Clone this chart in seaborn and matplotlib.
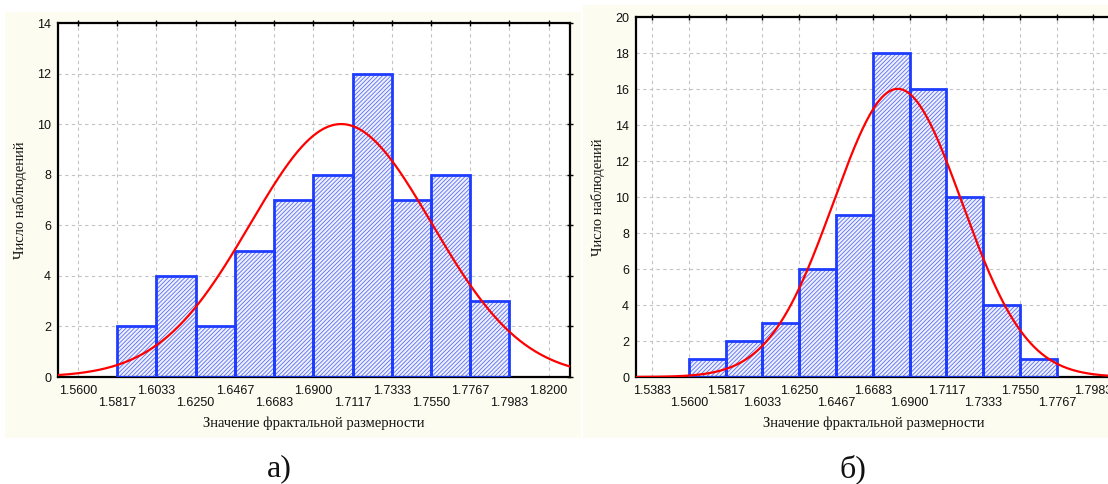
import numpy as np
import pandas as pd
import matplotlib
matplotlib.use("Agg")
import matplotlib.pyplot as plt
from matplotlib.patches import Rectangle
import seaborn as sns

# ---------------- data ----------------
left_ticks = [1.5600, 1.5817, 1.6033, 1.6250, 1.6467, 1.6683, 1.6900,
              1.7117, 1.7333, 1.7550, 1.7767, 1.7983, 1.8200]
left_tick_labels = ["1.5600", "1.5817", "1.6033", "1.6250", "1.6467", "1.6683", "1.6900",
                    "1.7117", "1.7333", "1.7550", "1.7767", "1.7983", "1.8200"]
left_edges = [1.5817, 1.6033, 1.6250, 1.6467, 1.6683, 1.6900,
              1.7117, 1.7333, 1.7550, 1.7767, 1.7983]
left_counts = [2, 4, 2, 5, 7, 8, 12, 7, 8, 3]
left_mu, left_sigma = 1.7054, 0.0501

right_ticks = [1.5383, 1.5600, 1.5817, 1.6033, 1.6250, 1.6467, 1.6683,
               1.6900, 1.7117, 1.7333, 1.7550, 1.7767, 1.7983]
right_tick_labels = ["1.5383", "1.5600", "1.5817", "1.6033", "1.6250", "1.6467", "1.6683",
                     "1.6900", "1.7117", "1.7333", "1.7550", "1.7767", "1.7983"]
right_edges = [1.5600, 1.5817, 1.6033, 1.6250, 1.6467, 1.6683,
               1.6900, 1.7117, 1.7333, 1.7550, 1.7767]
right_counts = [1, 2, 3, 6, 9, 18, 16, 10, 4, 1]
right_mu, right_sigma = 1.683, 0.0378

xlabel_text = "Значение фрактальной размерности"
ylabel_text = "Число наблюдений"
panel_labels = ["а)", "б)"]

# ---------------- style ----------------
sns.set_theme(style="white")
plt.rcParams["font.family"] = ["Liberation Sans", "DejaVu Sans"]
plt.rcParams["hatch.linewidth"] = 0.6

W, H = 1108, 484
fig = plt.figure(figsize=(W / 100, H / 100), dpi=100)
fig.patch.set_facecolor("white")

cream = "#fcfcf1"
fig.patches.append(Rectangle((5 / W, (H - 438) / H), 576 / W, 426 / H,
                             transform=fig.transFigure, facecolor=cream,
                             edgecolor="none", zorder=-10))
fig.patches.append(Rectangle((583 / W, (H - 438) / H), 530 / W, 433 / H,
                             transform=fig.transFigure, facecolor=cream,
                             edgecolor="none", zorder=-10))

ax1 = fig.add_axes([58 / W, (H - 377) / H, (570 - 58) / W, (377 - 23) / H])
ax2 = fig.add_axes([636 / W, (H - 377) / H, 476 / W, (377 - 17) / H])
ax1.set_zorder(1)
ax2.set_zorder(1)

serif = ["Liberation Serif", "DejaVu Serif"]


def draw(ax, ticks, tick_labels, edges, counts, mu, sigma, xlim, ylim, ystep):
    ax.set_facecolor("white")
    edges = [float(e) for e in edges]
    counts_arr = np.asarray(counts, dtype=float)
    centers = [(a + b) / 2 for a, b in zip(edges[:-1], edges[1:])]
    df = pd.DataFrame({"x": centers, "w": counts_arr})
    # hatched fill
    sns.histplot(data=df, x="x", weights="w", bins=edges, ax=ax,
                 color="white", alpha=1, zorder=2)
    fill_patches = list(ax.patches)
    for p in fill_patches:
        p.set_facecolor("#eef0fd")
        p.set_edgecolor("#5a6ef2")
        p.set_hatch("////////")
        p.set_linewidth(0)
        p.set_zorder(2)
    # outlines
    sns.histplot(data=df, x="x", weights="w", bins=edges, ax=ax,
                 fill=False, color="#1e3cff", zorder=3)
    for p in ax.patches:
        if p in fill_patches:
            continue
        p.set_facecolor("none")
        p.set_edgecolor("#1e3cff")
        p.set_linewidth(2.0)
        p.set_zorder(3)
    # fitted normal curve
    n = counts_arr.sum()
    bw = np.mean(np.diff(edges))
    xs = np.linspace(xlim[0], xlim[1], 400)
    ys = n * bw / (sigma * np.sqrt(2 * np.pi)) * np.exp(-0.5 * ((xs - mu) / sigma) ** 2)
    sns.lineplot(x=xs, y=ys, ax=ax, color="#ff0000", linewidth=1.6, zorder=4)

    ax.set_xlim(*xlim)
    ax.set_ylim(*ylim)
    ax.set_xticks(ticks[0::2], tick_labels[0::2])
    ax.set_xticks(ticks[1::2], tick_labels[1::2], minor=True)
    ax.set_yticks(np.arange(0, ylim[1] + 0.1, ystep))
    ax.tick_params(axis="both", which="both", direction="inout", length=4, width=1,
                   color="black", labelsize=9, labelcolor="#111111",
                   top=True, right=True)
    ax.tick_params(axis="x", which="major", pad=4)
    ax.tick_params(axis="x", which="minor", pad=12.5)
    ax.tick_params(axis="y", pad=3)
    ax.grid(True, which="both", color="#c4c4c4", linestyle=(0, (3, 3)), linewidth=0.8)
    ax.set_axisbelow(True)
    for s in ax.spines.values():
        s.set_visible(True)
        s.set_color("black")
        s.set_linewidth(1.6)
    ax.set_xlabel(xlabel_text, fontfamily=serif, fontsize=10.5, labelpad=5, color="#111111")
    ax.set_ylabel(ylabel_text, fontfamily=serif, fontsize=10.5, labelpad=7, color="#111111")


draw(ax1, left_ticks, left_tick_labels, left_edges, left_counts, left_mu, left_sigma,
     (1.549, 1.8318), (0, 14), 2)
draw(ax2, right_ticks, right_tick_labels, right_edges, right_counts, right_mu, right_sigma,
     (1.5289, 1.8092), (0, 20), 2)

fig.text(279 / W, (H - 469) / H, panel_labels[0], fontfamily=serif, fontsize=23,
         ha="center", va="center", color="#111111")
fig.text(853 / W, (H - 469) / H, panel_labels[1], fontfamily=serif, fontsize=23,
         ha="center", va="center", color="#111111")

fig.savefig("out.png", dpi=100, facecolor="white")
